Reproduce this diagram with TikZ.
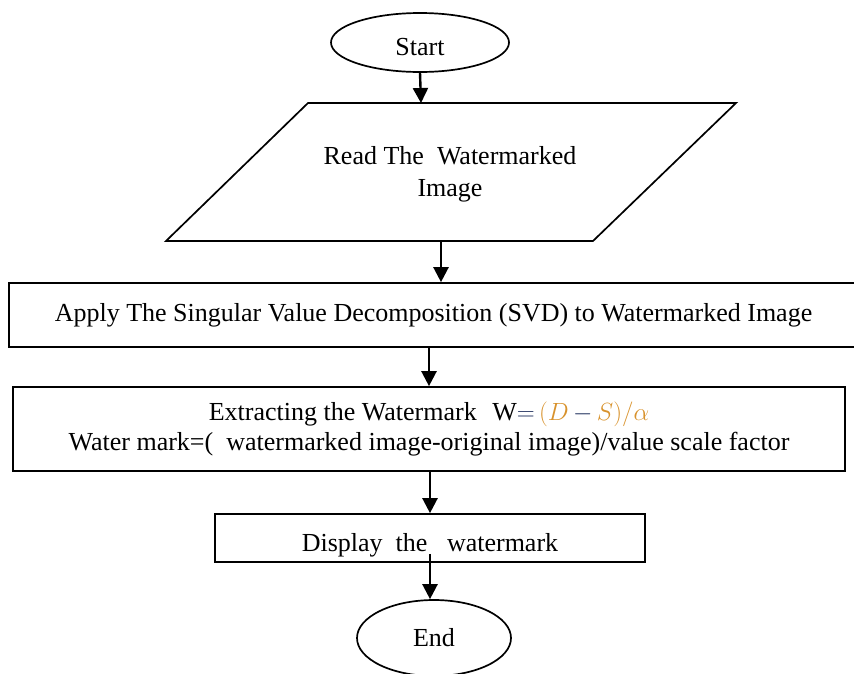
\documentclass[tikz,border=0pt]{standalone}
\usepackage{fontspec}
\setmainfont{Liberation Serif}
\usetikzlibrary{shapes.geometric,arrows.meta,calc}

\definecolor{mathorange}{HTML}{D8922C}
\definecolor{mathnavy}{HTML}{1F2F5C}

\newcommand{\lowertext}[1]{\raisebox{-4pt}[\height][0pt]{#1}}

\tikzset{
    flow/.style={draw, line width=1.7pt, inner sep=0pt, font=\fontsize{26}{32}\selectfont},
    terminal/.style={flow, ellipse},
    process/.style={flow, rectangle, align=center},
    arr/.style={-{Triangle[width=15pt,length=15pt]}, line width=2.4pt}
}

\begin{document}
\begin{tikzpicture}[x=1pt, y=-1pt]
        \useasboundingbox (0,0) rectangle (854,673);

        \node[terminal, minimum width=178pt, minimum height=59pt] (start) at (420,42.5) {\lowertext{Start}};

        % input parallelogram
        \draw[line width=1.7pt] (308,103) -- (736,103) -- (593,241) -- (166,241) -- cycle;
        \coordinate (readtop) at (421,103);
        \coordinate (readbot) at (441,241);
        \node[font=\fontsize{26}{32}\selectfont, align=center] (read) at (450,174) {Read The \ Watermarked\\Image};

        \node[process, minimum width=849pt, minimum height=64pt] (apply) at (433.5,315)
            {Apply The Singular Value Decomposition (SVD) to Watermarked Image};
        \node[process, minimum width=832pt, minimum height=84pt] (extract) at (429,429)
            {Extracting the Watermark\hspace{0.6em}W\textcolor{mathnavy}{$=$}\,\textcolor{mathorange}{$(D$}\,\textcolor{mathnavy}{$-$}\,\textcolor{mathorange}{$S)/\alpha$}\\[-2pt]
             Water mark=( \ watermarked image-original image)/value scale factor};
        \node[process, minimum width=430pt, minimum height=48pt] (disp) at (430,538)
            {\lowertext{Display \ the \ \ watermark}};

        \node[terminal, minimum width=154pt, minimum height=76pt] (end) at (434,638) {End};

        \draw[arr] (start.south) -- (readtop);
        \draw[arr] (readbot) -- (readbot |- apply.north);
        \draw[arr] (extract.north |- apply.south) -- (extract.north);
        \draw[arr] (disp.north |- extract.south) -- (disp.north);
        \draw[arr] ([yshift=9pt]disp.south) -- (disp.south |- end.north);
\end{tikzpicture}
\end{document}
